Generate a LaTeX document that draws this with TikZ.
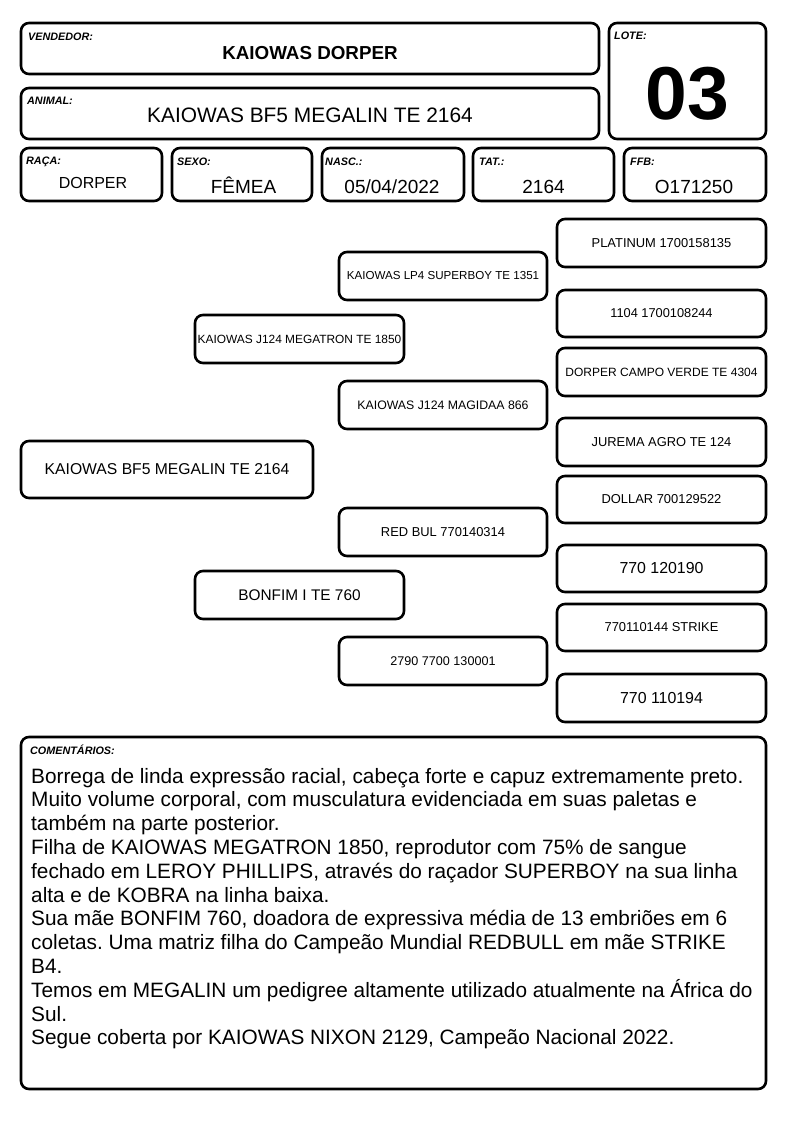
\documentclass[tikz,border=0pt]{standalone}
\usepackage{fontspec}
\setmainfont{Liberation Sans}
\frenchspacing
\newcommand\fs[1]{\fontsize{#1}{#1}\selectfont}
\begin{document}
\begin{tikzpicture}[x=1pt,y=-1pt,
  box/.style={draw, line width=2.6pt, rounded corners=8pt, inner sep=0pt, align=center},
  lbl/.style={anchor=north west, inner sep=0pt, font=\fs{10.8}\bfseries\itshape},
  val/.style={anchor=base, inner sep=0pt, font=\fs{19}},
  cline/.style={anchor=base west, inner sep=0pt, font=\fs{20.8}\frenchspacing}]
\useasboundingbox (0,0) rectangle (794,1123);
% header
\node[box, minimum width=578, minimum height=51] (vend) at (310,48.5) {};
\node[box, minimum width=157, minimum height=116] (lote) at (687.5,81) {};
\node[box, minimum width=578, minimum height=51] (anim) at (310,113.5) {};
\node[box, minimum width=141, minimum height=53] (raca) at (91.5,174.5) {};
\node[box, minimum width=140, minimum height=53] (sexo) at (242,174.5) {};
\node[box, minimum width=142, minimum height=53] (nasc) at (393,174.5) {};
\node[box, minimum width=141, minimum height=53] (tat) at (543.5,174.5) {};
\node[box, minimum width=142, minimum height=53] (ffb) at (695,174.5) {};
\node[lbl] (lvend) at (28,32.5) {VENDEDOR:};
\node[lbl] (llote) at (614,32) {LOTE:};
\node[lbl] (lanim) at (27,96.5) {ANIMAL:};
\node[lbl] (lraca) at (26,156.5) {RAÇA:};
\node[lbl] (lsexo) at (177,158) {SEXO:};
\node[lbl] (lnasc) at (325,158) {NASC.:};
\node[lbl] (ltat) at (479,158) {TAT.:};
\node[lbl] (lffb) at (630,158) {FFB:};
\node[anchor=base, inner sep=0pt, font=\fs{18.8}\bfseries] (tvend) at (310,60) {KAIOWAS DORPER};
\node[anchor=base, inner sep=0pt, font=\fs{75}\bfseries] (tlote) at (687.5,120) {03};
\node[anchor=base, inner sep=0pt, font=\fs{20.9}] (tanim) at (310,123) {KAIOWAS BF5 MEGALIN TE 2164};
\node[val, font=\fs{16}] (vraca) at (93,188.3) {DORPER};
\node[val] (vsexo) at (243.5,193.3) {FÊMEA};
\node[val] (vnasc) at (392,193.3) {05/04/2022};
\node[val] (vtat) at (543.5,193.3) {2164};
\node[val] (vffb) at (694,193.3) {O171250};
% pedigree
\node[box, minimum width=292, minimum height=57, font=\fs{15.7}] (p0) at (167,469.5) {KAIOWAS BF5 MEGALIN TE 2164};
\node[box, minimum width=209, minimum height=48, font=\fs{11.9}] (p1a) at (299.5,339) {KAIOWAS J124 MEGATRON TE 1850};
\node[box, minimum width=209, minimum height=48, font=\fs{15.4}] (p1b) at (299.5,595) {BONFIM I TE 760};
\node[box, minimum width=208, minimum height=48, font=\fs{11.6}] (p2a) at (443,276) {KAIOWAS LP4 SUPERBOY TE 1351};
\node[box, minimum width=208, minimum height=48, font=\fs{12.3}] (p2b) at (443,405) {KAIOWAS J124 MAGIDAA 866};
\node[box, minimum width=208, minimum height=48, font=\fs{12.9}] (p2c) at (443,532) {RED BUL 770140314};
\node[box, minimum width=208, minimum height=48, font=\fs{12.6}] (p2d) at (443,661) {2790 7700 130001};
\node[box, minimum width=209, minimum height=48, font=\fs{12.9}] (p3a) at (661.5,243) {PLATINUM 1700158135};
\node[box, minimum width=209, minimum height=47, font=\fs{12.8}] (p3b) at (661.5,313.5) {1104 1700108244};
\node[box, minimum width=209, minimum height=48, font=\fs{12}] (p3c) at (661.5,372) {DORPER CAMPO VERDE TE 4304};
\node[box, minimum width=209, minimum height=48, font=\fs{12.9}] (p3d) at (661.5,442) {JUREMA AGRO TE 124};
\node[box, minimum width=209, minimum height=47, font=\fs{12.9}] (p3e) at (661.5,499.5) {DOLLAR 700129522};
\node[box, minimum width=209, minimum height=47, font=\fs{15.9}] (p3f) at (661.5,568.5) {770 120190};
\node[box, minimum width=209, minimum height=47, font=\fs{12.9}] (p3g) at (661.5,627.5) {770110144 STRIKE};
\node[box, minimum width=209, minimum height=48, font=\fs{15.9}] (p3h) at (661.5,698) {770 110194};
% comments
\node[box, minimum width=745, minimum height=352] (com) at (393.5,913) {};
\node[lbl] (lcom) at (30,745) {COMENTÁRIOS:};
\node[cline] (c1) at (31,783.0) {Borrega de linda expressão racial, cabeça forte e capuz extremamente preto.};
\node[cline] (c2) at (31,806.8) {Muito volume corporal, com musculatura evidenciada em suas paletas e};
\node[cline] (c3) at (31,830.6) {também na parte posterior.};
\node[cline] (c4) at (31,854.4) {Filha de KAIOWAS MEGATRON 1850, reprodutor com 75\% de sangue};
\node[cline] (c5) at (31,878.2) {fechado em LEROY PHILLIPS, através do raçador SUPERBOY na sua linha};
\node[cline] (c6) at (31,902.0) {alta e de KOBRA na linha baixa.};
\node[cline] (c7) at (31,925.8) {Sua mãe BONFIM 760, doadora de expressiva média de 13 embriões em 6};
\node[cline] (c8) at (31,949.6) {coletas. Uma matriz filha do Campeão Mundial REDBULL em mãe STRIKE};
\node[cline] (c9) at (31,973.4) {B4.};
\node[cline] (c10) at (31,997.2) {Temos em MEGALIN um pedigree altamente utilizado atualmente na África do};
\node[cline] (c11) at (31,1021.0) {Sul.};
\node[cline] (c12) at (31,1044.8) {Segue coberta por KAIOWAS NIXON 2129, Campeão Nacional 2022.};
\end{tikzpicture}
\end{document}
